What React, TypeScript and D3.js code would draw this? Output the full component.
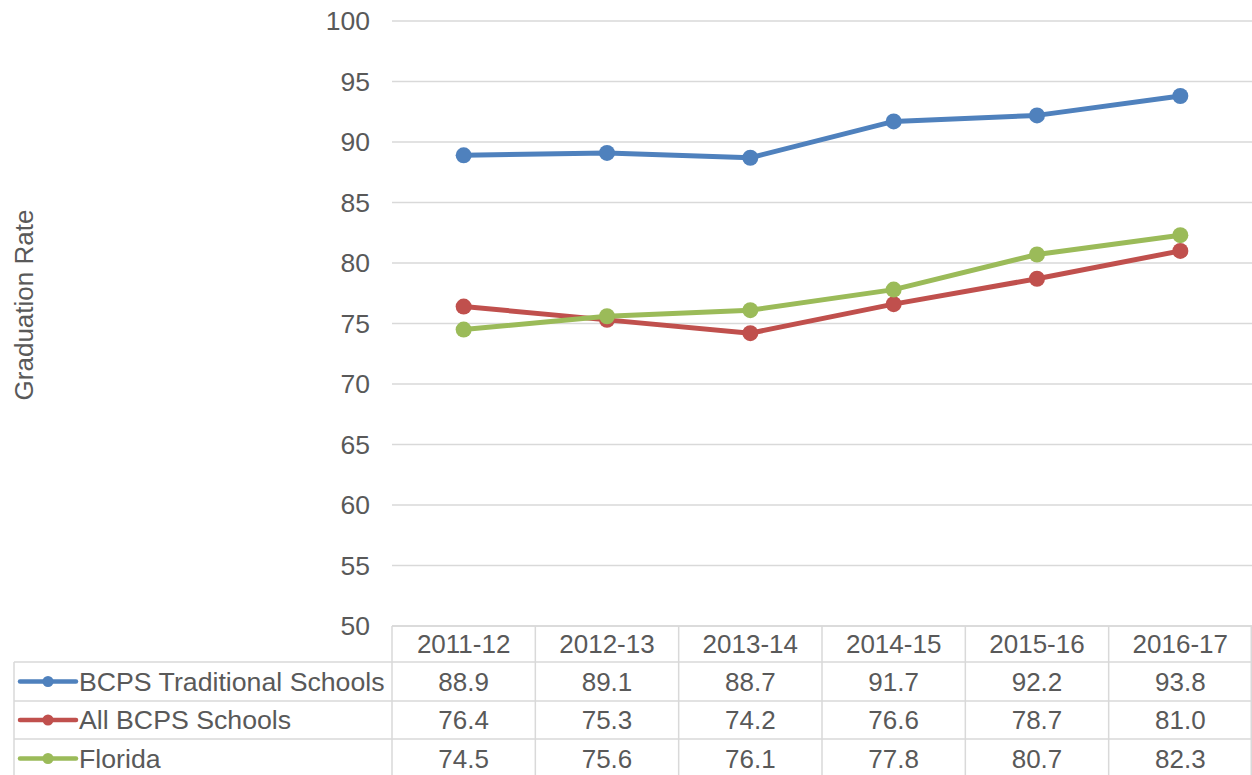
import React from "react";
import * as d3 from "d3";

const categories = ["2011-12", "2012-13", "2013-14", "2014-15", "2015-16", "2016-17"];
const seriesNames = ["BCPS Traditional Schools", "All BCPS Schools", "Florida"];
const traditional = [88.9, 89.1, 88.7, 91.7, 92.2, 93.8];
const allBcps = [76.4, 75.3, 74.2, 76.6, 78.7, 81.0];
const florida = [74.5, 75.6, 76.1, 77.8, 80.7, 82.3];
const yTicks = [50, 55, 60, 65, 70, 75, 80, 85, 90, 95, 100];
const colors = ["#4F81BD", "#C0504D", "#9BBB59"];

const W = 1252;
const H = 775;
const plotLeft = 392;
const plotRight = 1252;
const plotTop = 21;
const plotBottom = 626;
const tableLeft = 14;
const rowEdges = [626, 662, 701, 739, 778];

export default function App() {
  const series = [traditional, allBcps, florida];
  const x = d3.scaleBand<string>().domain(categories).range([plotLeft, plotRight]);
  const y = d3.scaleLinear().domain([50, 100]).range([plotBottom, plotTop]);
  const line = d3
    .line<number>()
    .x((_, i) => (x(categories[i]) as number) + x.bandwidth() / 2)
    .y((d) => y(d));
  const font = "Liberation Sans, Arial, sans-serif";
  const textColor = "#595959";
  const gridColor = "#D9D9D9";
  const fs = 26;

  return (
    <svg
      width={W}
      height={H}
      style={{ position: "absolute", left: 0, top: 0, background: "#fff" }}
      fontFamily={font}
    >
      {yTicks.map((t) => (
        <line key={t} x1={plotLeft} x2={plotRight} y1={y(t)} y2={y(t)} stroke={gridColor} strokeWidth={1.5} />
      ))}
      {yTicks.map((t) => (
        <text key={"l" + t} x={370} y={y(t)} dy="0.35em" textAnchor="end" fontSize={26.5} fill={textColor}>
          {t}
        </text>
      ))}
      <text
        transform={`translate(33, ${305}) rotate(-90)`}
        textAnchor="middle"
        fontSize={fs}
        fill={textColor}
      >
        Graduation Rate
      </text>
      <g stroke={gridColor} strokeWidth={1.5} fill="none">
        <line x1={plotLeft} x2={plotRight} y1={rowEdges[0]} y2={rowEdges[0]} />
        {rowEdges.slice(1).map((r, i) => (
          <line key={"h" + i} x1={tableLeft} x2={plotRight} y1={r} y2={r} />
        ))}
        <line x1={tableLeft} x2={tableLeft} y1={rowEdges[1]} y2={rowEdges[4]} />
        {categories.map((c, i) => (
          <line key={"v" + i} x1={x(c) as number} x2={x(c) as number} y1={rowEdges[0]} y2={rowEdges[4]} />
        ))}
        <line x1={plotRight - 0.75} x2={plotRight - 0.75} y1={rowEdges[0]} y2={rowEdges[4]} />
      </g>
      {categories.map((c) => (
        <text
          key={"c" + c}
          x={(x(c) as number) + x.bandwidth() / 2}
          y={(rowEdges[0] + rowEdges[1]) / 2}
          dy="0.35em"
          textAnchor="middle"
          fontSize={fs}
          fill={textColor}
        >
          {c}
        </text>
      ))}
      {series.map((s, si) => {
        const cy = (rowEdges[si + 1] + rowEdges[si + 2]) / 2;
        return (
          <g key={"row" + si}>
            <line x1={20} x2={76} y1={cy} y2={cy} stroke={colors[si]} strokeWidth={4.5} strokeLinecap="round" />
            <circle cx={48} cy={cy} r={5.5} fill={colors[si]} />
            <text x={79} y={cy} dy="0.35em" fontSize={26.7} fill={textColor}>
              {seriesNames[si]}
            </text>
            {s.map((v, i) => (
              <text
                key={i}
                x={(x(categories[i]) as number) + x.bandwidth() / 2}
                y={cy}
                dy="0.35em"
                textAnchor="middle"
                fontSize={fs}
                fill={textColor}
              >
                {v.toFixed(1)}
              </text>
            ))}
          </g>
        );
      })}
      {series.map((s, si) => (
        <g key={"s" + si}>
          <path d={line(s) as string} fill="none" stroke={colors[si]} strokeWidth={5} strokeLinejoin="round" />
          {s.map((v, i) => (
            <circle
              key={i}
              cx={(x(categories[i]) as number) + x.bandwidth() / 2}
              cy={y(v)}
              r={8}
              fill={colors[si]}
            />
          ))}
        </g>
      ))}
    </svg>
  );
}
